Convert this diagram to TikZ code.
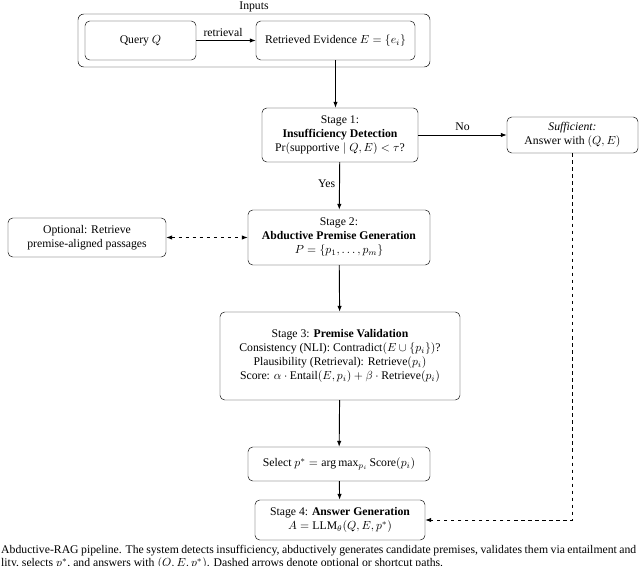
\documentclass[tikz,border=0pt]{standalone}
\usepackage{amsmath}
\usepackage{fontspec}
\setmainfont{Liberation Serif}
\usetikzlibrary{arrows.meta}

\begin{document}
\begin{tikzpicture}[x=0.03cm, y=-0.03cm, font=\normalsize,
  box/.style={draw, rounded corners=4pt, align=center, inner sep=2pt},
  arr/.style={-{Latex[length=5pt]}, thick}]
\clip (0,0) rectangle (640,566);
\useasboundingbox (0,0) rectangle (640,566);
\node[draw, rounded corners=5pt, minimum width=352*0.03cm, minimum height=53*0.03cm, label={[yshift=-2pt]above:{Inputs}}] (inputs) at (254,40.5) {};
\node[box, minimum width=111*0.03cm, minimum height=39*0.03cm] (query) at (140.5,40.5) {Query $Q$};
\node[box, minimum width=159*0.03cm, minimum height=39*0.03cm] (evid) at (335.5,40.5) {Retrieved Evidence $E=\{e_i\}$};
\node[box, minimum width=156*0.03cm, minimum height=54*0.03cm] (stage1) at (340,135) {Stage 1:\\ \textbf{Insufficiency Detection}\\ $\Pr(\text{supportive}\mid Q,E)<\tau$?};
\node[box, minimum width=131*0.03cm, minimum height=36*0.03cm] (suff) at (572.5,135) {\textit{Sufficient:}\\ Answer with $(Q,E)$};
\node[box, minimum width=182*0.03cm, minimum height=55*0.03cm] (stage2) at (339,237.5) {Stage 2:\\ \textbf{Abductive Premise Generation}\\ $P=\{p_1,\ldots,p_m\}$};
\node[box, minimum width=158*0.03cm, minimum height=39*0.03cm] (optional) at (87,237.5) {Optional: Retrieve\\ premise-aligned passages};
\node[box, minimum width=240*0.03cm, minimum height=88*0.03cm] (stage3) at (340,356) {Stage 3: \textbf{Premise Validation}\\ Consistency (NLI): $\mathrm{Contradict}(E\cup\{p_i\})$?\\ Plausibility (Retrieval): $\mathrm{Retrieve}(p_i)$\\ Score: $\alpha\cdot\mathrm{Entail}(E,p_i)+\beta\cdot\mathrm{Retrieve}(p_i)$};
\node[box, minimum width=182*0.03cm, minimum height=34*0.03cm] (select) at (339,464) {Select $p^*=\arg\max_{p_i}\mathrm{Score}(p_i)$};
\node[box, minimum width=170*0.03cm, minimum height=40*0.03cm] (stage4) at (340,520) {Stage 4: \textbf{Answer Generation}\\ $A=\mathrm{LLM}_\theta(Q,E,p^*)$};
\coordinate (corner) at (suff.south |- stage4.east);
\draw[arr] (query) -- node[above, pos=0.45] {retrieval} (evid);
\draw[arr] (evid.south) -- (evid.south |- stage1.north);
\draw[arr] (stage1) -- node[above] {No} (suff);
\draw[arr] (stage1) -- node[left, pos=0.45] {Yes} (stage2);
\draw[arr, dashed, {Latex[length=5pt]}-{Latex[length=5pt]}] (optional) -- (stage2);
\draw[arr] (stage2) -- (stage3);
\draw[arr] (stage3) -- (select);
\draw[arr] (select) -- (stage4);
\draw[arr, dashed] (suff.south) -- (corner) -- (stage4.east);
\node[anchor=west, inner sep=0pt] (cap1) at (1,551) {\makebox[19.05cm][s]{Abductive-RAG pipeline. The system detects insufficiency, abductively generates candidate premises, validates them via entailment and}};
\node[anchor=west, inner sep=0pt] (cap2) at (1,564) {lity, selects $p^*$, and answers with $(Q,E,p^*)$. Dashed arrows denote optional or shortcut paths.};
\end{tikzpicture}
\end{document}
